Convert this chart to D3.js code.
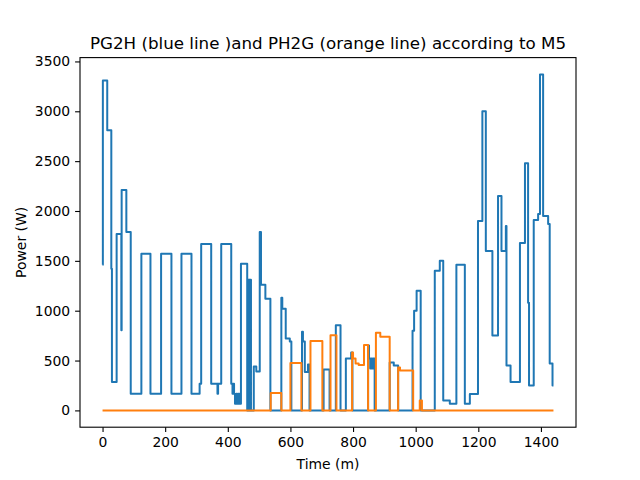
<!DOCTYPE html>
<html>
<head>
<meta charset="utf-8">
<script src="https://cdn.jsdelivr.net/npm/d3@7"></script>
<style>
  body { margin: 0; background: #fff; }
  svg { font-family: "DejaVu Sans", sans-serif; }
</style>
</head>
<body>
<svg id="chart" width="640" height="480"></svg>
<script>
// PG2H (blue) change points: minute -> power (W), held until next change
const blueT = [0, 1, 15, 28, 30, 45, 60, 61, 76, 90, 124, 153, 187, 220, 252, 284, 310, 315, 347, 367, 369,
  379, 411, 415, 418, 420, 423, 427, 430, 434, 437, 442, 462, 466, 468, 470, 474, 483, 491, 502, 506, 520, 536,
  571, 574, 585, 598, 603, 637, 640, 646, 656, 661, 706, 725, 745, 760, 777, 794, 798,
  848, 851, 855, 858, 861, 864, 869, 917, 930, 944, 990, 995, 1003, 1016,
  1061, 1077, 1088, 1109, 1130, 1157, 1173, 1199, 1213, 1224, 1245, 1263, 1274, 1288, 1290, 1303,
  1333, 1349, 1359, 1362, 1377, 1391, 1397, 1407, 1423, 1428, 1437, 1440];
const blueV = [1460, 3310, 2810, 1420, 285, 1770, 805, 2210, 1790, 168, 1570, 168, 1570, 168, 1570, 168, 268, 1670, 268, 168, 268,
  1670, 268, 168, 268, 168, 67, 168, 67, 168, 67, 1470, 0, 1310, 0, 1310, 0, 440, 390, 1790, 1260, 1120, 0,
  1130, 1020, 720, 690, 0, 790, 690, 385, 460, 0, 410, 0, 855, 0, 520, 580, 0,
  650, 520, 420, 520, 420, 520, 0, 480, 450, 0, 800, 1000, 1200, 0,
  1400, 1500, 100, 67, 1460, 67, 165, 1900, 3000, 1600, 750, 2150, 1600, 1850, 450, 285,
  1680, 2480, 1080, 250, 1910, 1970, 3370, 1950, 1870, 470, 250, 250];

// PH2G (orange) change points
const orangeT = [0, 537, 571, 600, 635, 664, 702, 728, 747, 797, 800, 808, 818, 835, 848, 873, 887, 917,
  944, 950, 992, 1013, 1020, 1440];
const orangeV = [0, 175, 0, 476, 0, 697, 0, 754, 0, 580, 520, 470, 455, 655, 0, 778, 738, 0,
  430, 400, 0, 100, 0, 0];

const xTicks = [0, 200, 400, 600, 800, 1000, 1200, 1400];
const yTicks = [0, 500, 1000, 1500, 2000, 2500, 3000, 3500];

const margin = { top: 57.6, right: 64, bottom: 52.8, left: 80 };
const width = 640 - margin.left - margin.right;
const height = 480 - margin.top - margin.bottom;

const svg = d3.select("#chart");
const g = svg.append("g").attr("transform", `translate(${margin.left},${margin.top})`);

const x = d3.scaleLinear().domain([-72, 1512]).range([0, width]);
const y = d3.scaleLinear().domain([-168.5, 3538.5]).range([height, 0]);

const line = d3.line()
  .x(d => x(d[0]))
  .y(d => y(d[1]))
  .curve(d3.curveStepAfter);

const blue = blueT.map((t, i) => [t, blueV[i]]);
const orange = orangeT.map((t, i) => [t, orangeV[i]]);

g.append("path")
  .datum(blue)
  .attr("d", line)
  .attr("fill", "none")
  .attr("stroke", "#1f77b4")
  .attr("stroke-width", 2)
  .attr("stroke-linejoin", "round");

g.append("path")
  .datum(orange)
  .attr("d", line)
  .attr("fill", "none")
  .attr("stroke", "#ff7f0e")
  .attr("stroke-width", 2)
  .attr("stroke-linejoin", "round");

// axes
const xAxis = g.append("g")
  .attr("transform", `translate(0,${height})`)
  .call(d3.axisBottom(x).tickValues(xTicks).tickSize(4.9).tickPadding(4.9).tickFormat(d3.format("d")));
const yAxis = g.append("g")
  .call(d3.axisLeft(y).tickValues(yTicks).tickSize(4.9).tickPadding(4.9).tickFormat(d3.format("d")));

[xAxis, yAxis].forEach(a => {
  a.select(".domain").remove();
  a.selectAll("line").attr("stroke", "#000").attr("stroke-width", 1.1);
  a.selectAll("text").attr("font-size", "13.9px").attr("fill", "#000")
    .attr("font-family", "DejaVu Sans, sans-serif");
});

// frame
g.append("rect")
  .attr("width", width)
  .attr("height", height)
  .attr("fill", "none")
  .attr("stroke", "#000")
  .attr("stroke-width", 1.1);

// labels
svg.append("text")
  .attr("x", margin.left + width / 2)
  .attr("y", 49)
  .attr("text-anchor", "middle")
  .attr("font-size", "16.7px")
  .text("PG2H (blue line )and PH2G (orange line) according to M5");

svg.append("text")
  .attr("x", margin.left + width / 2)
  .attr("y", 469)
  .attr("text-anchor", "middle")
  .attr("font-size", "13.9px")
  .text("Time (m)");

svg.append("text")
  .attr("transform", `translate(26,${margin.top + height / 2}) rotate(-90)`)
  .attr("text-anchor", "middle")
  .attr("font-size", "13.9px")
  .text("Power (W)");
</script>
</body>
</html>
